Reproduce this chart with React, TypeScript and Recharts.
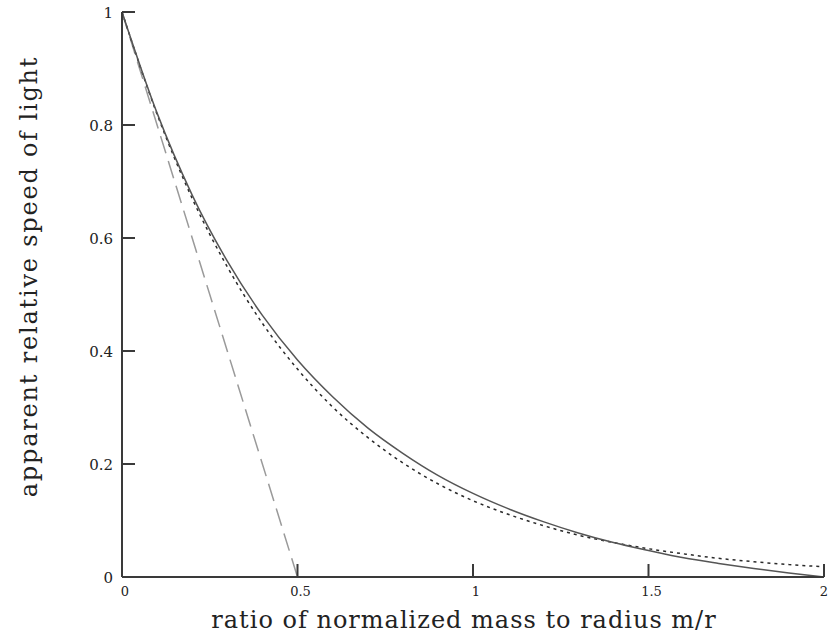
import React from 'react';
import { LineChart, Line, XAxis, YAxis } from 'recharts';

// m/r sample points
const massRatio = [0, 0.1, 0.2, 0.3, 0.4, 0.5, 0.6, 0.7, 0.8, 0.9, 1.0, 1.1, 1.2, 1.3, 1.4, 1.5, 1.6, 1.7, 1.8, 1.9, 2.0];
// solid curve
const solidSpeed = [1, 0.821, 0.676, 0.559, 0.463, 0.384, 0.319, 0.264, 0.219, 0.18, 0.148, 0.121, 0.098, 0.078, 0.061, 0.047, 0.034, 0.024, 0.015, 0.007, 0];
// dotted curve
const dottedSpeed = [1, 0.819, 0.67, 0.549, 0.449, 0.368, 0.301, 0.247, 0.202, 0.165, 0.135, 0.111, 0.091, 0.074, 0.061, 0.05, 0.041, 0.033, 0.027, 0.022, 0.018];
// dashed line
const dashedX = [0, 0.5];
const dashedSpeed = [1, 0];

const xTicks = [0, 0.5, 1, 1.5, 2];
const xTickLabels = ['0', '0.5', '1', '1.5', '2'];
const yTicks = [0, 0.2, 0.4, 0.6, 0.8, 1];
const yTickLabels = ['0', '0.2', '0.4', '0.6', '0.8', '1'];

const solidData = massRatio.map((x, i) => ({ x, y: solidSpeed[i] }));
const dottedData = massRatio.map((x, i) => ({ x, y: dottedSpeed[i] }));
const dashedData = dashedX.map((x, i) => ({ x, y: dashedSpeed[i] }));

const FONT = '"DejaVu Serif", serif';
const FRAME = '#3a3a3a';
const TICK = 13;

const BottomTick = (props: any) => {
  const { x, y, payload } = props;
  const idx = xTicks.indexOf(payload.value);
  const last = idx === xTicks.length - 1;
  return (
    <g>
      <line x1={x} y1={y} x2={x} y2={y - TICK} stroke={FRAME} strokeWidth={2} />
      <text
        x={last ? x + 4 : x + 3}
        y={y + 19}
        textAnchor={last ? 'end' : 'middle'}
        fontFamily={FONT}
        fontSize={13}
        fill="#222"
      >
        {xTickLabels[idx]}
      </text>
    </g>
  );
};

const TopTick = (props: any) => {
  const { x, y } = props;
  return <line x1={x} y1={y} x2={x} y2={y + TICK} stroke={FRAME} strokeWidth={2} />;
};

const LeftTick = (props: any) => {
  const { x, y, payload } = props;
  const idx = yTicks.indexOf(payload.value);
  return (
    <g>
      <line x1={x} y1={y} x2={x + TICK} y2={y} stroke={FRAME} strokeWidth={2} />
      <text x={x - 9} y={y + 6} textAnchor="end" fontFamily={FONT} fontSize={15} fill="#222">
        {yTickLabels[idx]}
      </text>
    </g>
  );
};

const RightTick = (props: any) => {
  const { x, y } = props;
  return <line x1={x} y1={y} x2={x - TICK} y2={y} stroke={FRAME} strokeWidth={2} />;
};

const XTitle = (props: any) => {
  const vb = props.viewBox;
  return (
    <text
      x={vb.x + vb.width / 2 - 9}
      y={vb.y + 51}
      textAnchor="middle"
      fontFamily={FONT}
      fontSize={24}
      letterSpacing={1}
      fill="#222"
    >
      ratio of normalized mass to radius m/r
    </text>
  );
};

const YTitle = (props: any) => {
  const vb = props.viewBox;
  const cx = vb.x + 29;
  const cy = vb.y + vb.height / 2 - 18;
  return (
    <text
      x={cx}
      y={cy}
      transform={`rotate(-90 ${cx} ${cy})`}
      textAnchor="middle"
      dominantBaseline="central"
      fontFamily={FONT}
      fontSize={24}
      letterSpacing={1.8}
      fill="#222"
    >
      apparent relative speed of light
    </text>
  );
};

export default function App() {
  return (
    <div style={{ position: 'absolute', left: 0, top: 0, background: '#fff' }}>
      <LineChart width={828} height={642} margin={{ top: 12, right: 4, left: 0, bottom: 0 }}>
        <XAxis
          xAxisId="bottom"
          dataKey="x"
          type="number"
          domain={[0, 2]}
          ticks={xTicks}
          allowDataOverflow
          height={65}
          tickSize={0}
          tickMargin={0}
          tickLine={false}
          axisLine={{ stroke: FRAME, strokeWidth: 2 }}
          tick={<BottomTick />}
          interval={0}
          label={{ content: <XTitle /> }}
        />
        <XAxis
          xAxisId="top"
          orientation="top"
          dataKey="x"
          type="number"
          domain={[0, 2]}
          ticks={xTicks}
          allowDataOverflow
          height={0}
          tickSize={0}
          tickMargin={0}
          tickLine={false}
          axisLine={{ stroke: FRAME, strokeWidth: 2 }}
          tick={<TopTick />}
          interval={0}
        />
        <YAxis
          yAxisId="left"
          type="number"
          domain={[0, 1]}
          ticks={yTicks}
          allowDataOverflow
          width={122}
          tickSize={0}
          tickMargin={0}
          tickLine={false}
          axisLine={{ stroke: FRAME, strokeWidth: 2 }}
          tick={<LeftTick />}
          interval={0}
          label={{ content: <YTitle /> }}
        />
        <YAxis
          yAxisId="right"
          orientation="right"
          type="number"
          domain={[0, 1]}
          ticks={yTicks}
          allowDataOverflow
          width={0}
          tickSize={0}
          tickMargin={0}
          tickLine={false}
          axisLine={{ stroke: FRAME, strokeWidth: 2 }}
          tick={<RightTick />}
          interval={0}
        />
        <Line
          xAxisId="bottom"
          yAxisId="left"
          data={dashedData}
          dataKey="y"
          type="linear"
          stroke="#9a9a9a"
          strokeWidth={1.5}
          strokeDasharray="18 8"
          dot={false}
          isAnimationActive={false}
        />
        <Line
          xAxisId="bottom"
          yAxisId="left"
          data={dottedData}
          dataKey="y"
          type="monotone"
          stroke="#2a2a2a"
          strokeWidth={1.5}
          strokeDasharray="3 4"
          dot={false}
          isAnimationActive={false}
        />
        <Line
          xAxisId="bottom"
          yAxisId="left"
          data={solidData}
          dataKey="y"
          type="monotone"
          stroke="#555"
          strokeWidth={1.5}
          dot={false}
          isAnimationActive={false}
        />
      </LineChart>
    </div>
  );
}
